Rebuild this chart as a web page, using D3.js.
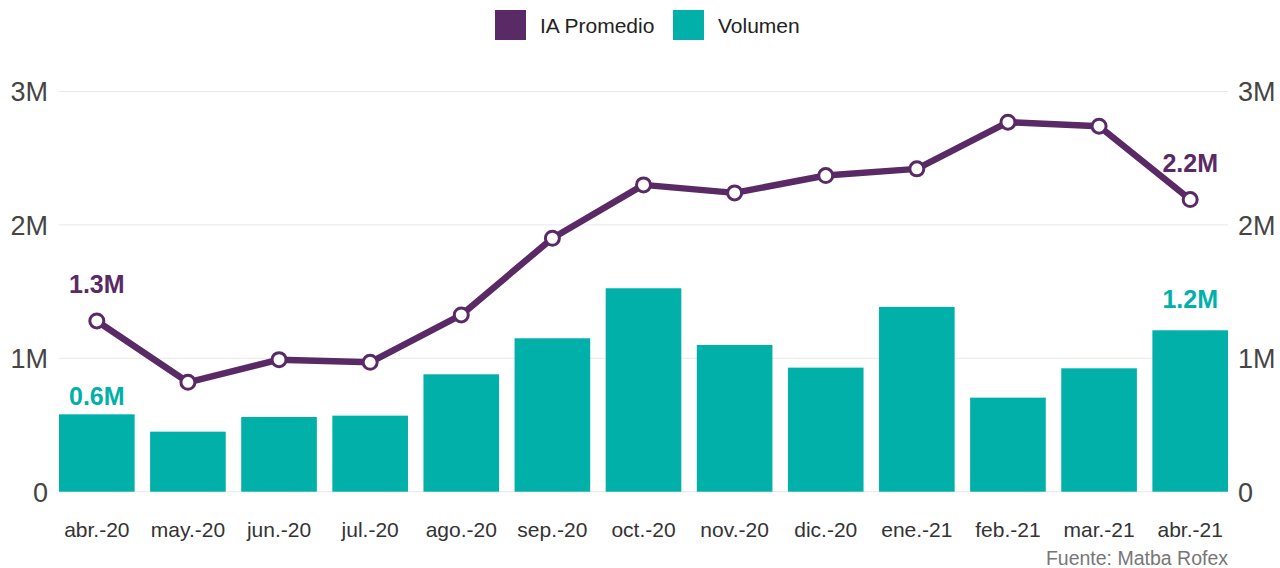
<!DOCTYPE html>
<html>
<head>
<meta charset="utf-8">
<script src="https://cdn.jsdelivr.net/npm/d3@7"></script>
<style>
  body { margin: 0; background: #fff; font-family: "Liberation Sans", Arial, sans-serif; }
  .axis text { fill: #454545; }
</style>
</head>
<body>
<div class="canvas"></div>
<script>
const months = ["abr.-20", "may.-20", "jun.-20", "jul.-20", "ago.-20", "sep.-20", "oct.-20",
  "nov.-20", "dic.-20", "ene.-21", "feb.-21", "mar.-21", "abr.-21"];
const volumen = [0.58, 0.45, 0.56, 0.57, 0.88, 1.15, 1.525, 1.10, 0.93, 1.385, 0.705, 0.925, 1.21];
const iaPromedio = [1.28, 0.82, 0.99, 0.97, 1.325, 1.90, 2.30, 2.24, 2.37, 2.42, 2.77, 2.74, 2.19];
const yTicks = [0, 1, 2, 3];
const purple = "#5A2A66";
const teal = "#00B0A9";

const W = 1280, H = 568;
const margin = { top: 91.5, right: 52, bottom: 76.3, left: 59 };
const width = W - margin.left - margin.right;
const height = H - margin.top - margin.bottom;

const svg = d3.select(".canvas").append("svg").attr("width", W).attr("height", H);

const x = d3.scaleBand().domain(months).range([0, width]).paddingInner(0.17).paddingOuter(0);
const y = d3.scaleLinear().domain([0, 3]).range([height, 0]);
const fmt = (d) => (d === 0 ? "0" : d + "M");

const chart = svg.append("g").attr("transform", `translate(${margin.left}, ${margin.top})`);

// gridlines
chart.append("g")
  .selectAll("line")
  .data(yTicks)
  .enter()
  .append("line")
  .attr("x1", 0)
  .attr("x2", width)
  .attr("y1", (d) => y(d))
  .attr("y2", (d) => y(d))
  .attr("stroke", "#e8e8e8")
  .attr("stroke-width", 1);

const yLeft = chart.append("g").attr("class", "axis")
  .call(d3.axisLeft(y).tickValues(yTicks).tickFormat(fmt).tickSize(0).tickPadding(11));
const yRight = chart.append("g").attr("class", "axis")
  .attr("transform", `translate(${width}, 0)`)
  .call(d3.axisRight(y).tickValues(yTicks).tickFormat(fmt).tickSize(0).tickPadding(10));
[yLeft, yRight].forEach((g) => {
  g.select(".domain").remove();
  g.selectAll("text").style("font-size", "27px").attr("dy", "0.35em");
});

const xAxis = chart.append("g").attr("class", "axis")
  .attr("transform", `translate(0, ${height})`)
  .call(d3.axisBottom(x).tickSize(0).tickPadding(30));
xAxis.select(".domain").remove();
xAxis.selectAll("text").style("font-size", "21px").style("fill", "#333");

// bars
chart.selectAll("rect.bar")
  .data(volumen)
  .enter()
  .append("rect")
  .attr("class", "bar")
  .attr("x", (d, i) => x(months[i]))
  .attr("width", x.bandwidth())
  .attr("y", (d) => y(d))
  .attr("height", (d) => height - y(d))
  .style("fill", teal);

// line
const line = d3.line()
  .x((d, i) => x(months[i]) + x.bandwidth() / 2)
  .y((d) => y(d));

chart.append("path")
  .datum(iaPromedio)
  .attr("d", line)
  .attr("fill", "none")
  .attr("stroke", purple)
  .attr("stroke-width", 6.5)
  .attr("stroke-linejoin", "round");

chart.selectAll("circle")
  .data(iaPromedio)
  .enter()
  .append("circle")
  .attr("cx", (d, i) => x(months[i]) + x.bandwidth() / 2)
  .attr("cy", (d) => y(d))
  .attr("r", 7)
  .attr("fill", "#fff")
  .attr("stroke", purple)
  .attr("stroke-width", 3);

// data labels on first and last points
const last = months.length - 1;
const labels = [
  { i: 0, v: iaPromedio[0], text: "1.3M", color: purple, dy: -28 },
  { i: last, v: iaPromedio[last], text: "2.2M", color: purple, dy: -28 },
  { i: 0, v: volumen[0], text: "0.6M", color: teal, dy: -9 },
  { i: last, v: volumen[last], text: "1.2M", color: teal, dy: -22 },
];
chart.selectAll("text.lbl")
  .data(labels)
  .enter()
  .append("text")
  .attr("class", "lbl")
  .attr("x", (d) => x(months[d.i]) + x.bandwidth() / 2)
  .attr("y", (d) => y(d.v) + d.dy)
  .attr("text-anchor", "middle")
  .style("font-size", "25px")
  .style("font-weight", "bold")
  .style("fill", (d) => d.color)
  .text((d) => d.text);

// legend
const legendItems = [
  { name: "IA Promedio", color: purple, x: 495 },
  { name: "Volumen", color: teal, x: 673 },
];
const legend = svg.append("g");
legendItems.forEach((d) => {
  legend.append("rect").attr("x", d.x).attr("y", 10).attr("width", 31).attr("height", 30).style("fill", d.color);
  legend.append("text").attr("x", d.x + 45).attr("y", 33)
    .style("font-size", "21px").style("fill", "#222").text(d.name);
});

svg.append("text")
  .attr("x", margin.left + width)
  .attr("y", 565)
  .attr("text-anchor", "end")
  .style("font-size", "19.5px")
  .style("fill", "#777")
  .text("Fuente: Matba Rofex");
</script>
</body>
</html>
